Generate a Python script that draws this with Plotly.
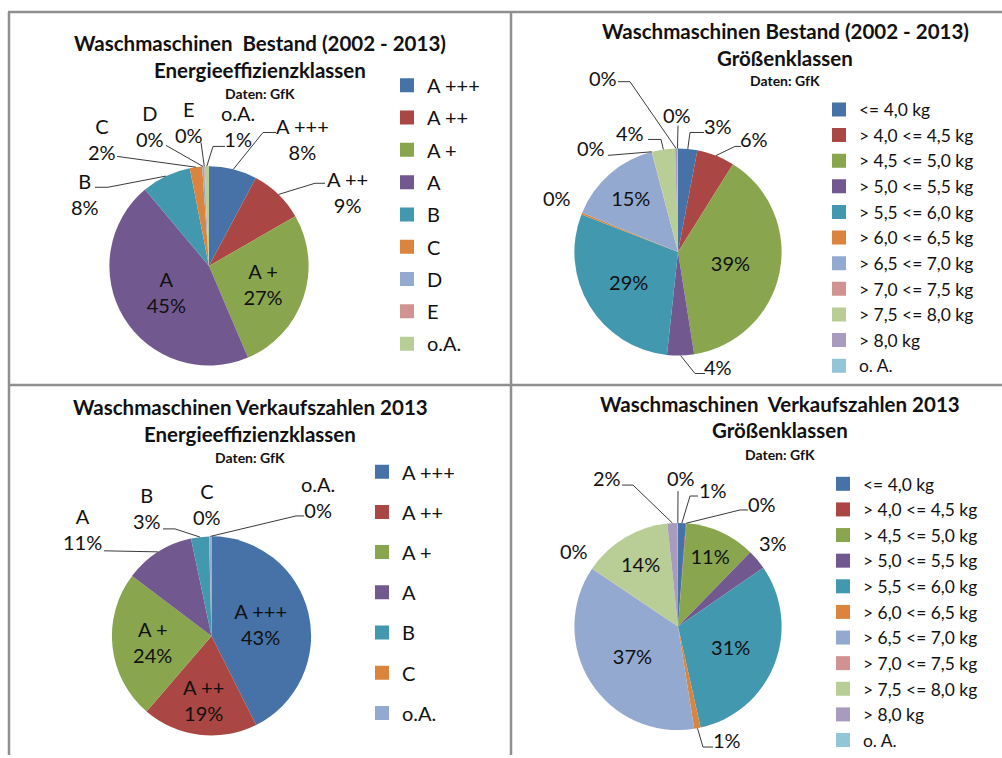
import math
import plotly.graph_objects as go

W, H = 1002, 758

# ---------------- data ----------------
eff_bestand_labels = ["A +++", "A ++", "A +", "A", "B", "C", "D", "E", "o.A."]
eff_bestand_values = [7.8, 8.9, 26.9, 45.3, 8.0, 2.0, 0.3, 0.1, 0.7]

size_labels = ["<= 4,0 kg", "> 4,0 <= 4,5 kg", "> 4,5 <= 5,0 kg", "> 5,0 <= 5,5 kg",
               "> 5,5 <= 6,0 kg", "> 6,0 <= 6,5 kg", "> 6,5 <= 7,0 kg", "> 7,0 <= 7,5 kg",
               "> 7,5 <= 8,0 kg", "> 8,0 kg", "o. A."]
size_bestand_values = [3.0, 5.9, 38.6, 4.2, 29.2, 0.3, 14.7, 0.05, 3.6, 0.3, 0.15]

eff_verkauf_labels = ["A +++", "A ++", "A +", "A", "B", "C", "o.A."]
eff_verkauf_values = [42.6, 18.7, 24.0, 11.4, 2.9, 0.05, 0.35]

size_verkauf_values = [1.2, 0.1, 11.0, 3.1, 31.1, 1.0, 36.9, 0.05, 13.9, 1.6, 0.05]

# ---------------- style ----------------
PALETTE = ["#4672A8", "#AA4643", "#89A54E", "#71588F", "#4198AF", "#DB843D",
           "#93A9CF", "#D19392", "#B9CD96", "#A99BBD", "#92C5D7"]
FONT = "Lato, 'Open Sans', sans-serif"
TXT = "#111111"
FRAME = "#8f8f8f"

CHARTS = [
    dict(labels=eff_bestand_labels, values=eff_bestand_values,
         title=("Waschmaschinen\u00a0 Bestand (2002 - 2013)", "Energieeffizienzklassen"),
         title_x=260, title_y=(43, 70, 94), center=(209, 267), r=100,
         inside={2, 3}, with_name=True,
         legend=dict(x=387, y=66, size=20, gap=3.3),
         outside={0: ((302, 140), [(263, 133), (276, 133)]),
                  1: ((347, 193), [(315, 184), (325, 184)]),
                  4: ((85, 195), [(108, 188), (95, 188)]),
                  5: ((102, 140), [(117, 157)]),
                  6: ((150, 126), [(166, 146)]),
                  7: ((189, 122), [(201, 143)]),
                  8: ((238, 126), [(213, 147), (225, 147)])}),
    dict(labels=size_labels, values=size_bestand_values,
         title=("Waschmaschinen Bestand (2002 - 2013)", "Größenklassen"),
         title_x=785, title_y=(31, 58, 81), center=(678, 253), r=104,
         inside={2, 4, 6}, with_name=False,
         legend=dict(x=819, y=92, size=17.4, gap=0),
         outside={0: ((718, 126), [(690, 133), (704, 133)]),
                  1: ((754, 140), [(735, 147), (741, 147)]),
                  3: ((718, 368), [(695, 375), (705, 375)]),
                  5: ((557, 199), []),
                  7: ((591, 149), [(608, 156)]),
                  8: ((630, 134), [(661, 140), (648, 140)]),
                  9: ((603, 78), [(630, 82), (618, 82)]),
                  10: ((677, 115), [(678, 126)])}),
    dict(labels=eff_verkauf_labels, values=eff_verkauf_values,
         title=("Waschmaschinen Verkaufszahlen 2013", "Energieeffizienzklassen"),
         title_x=250, title_y=(409, 436, 459), center=(211.5, 638.5), r=100,
         inside={0, 1, 2}, with_name=True,
         legend=dict(x=362, y=454, size=20, gap=11.2),
         outside={3: ((82, 531), [(104, 553)]),
                  4: ((147, 510), [(175, 531), (163, 531)]),
                  5: ((207, 506), []),
                  6: ((318, 499), [(296, 518), (304, 518)])}),
    dict(labels=size_labels, values=size_verkauf_values,
         title=("Waschmaschinen\u00a0 Verkaufszahlen 2013", "Größenklassen"),
         title_x=780, title_y=(406, 432, 456), center=(678, 629), r=104,
         inside={2, 4, 6, 8}, with_name=False,
         legend=dict(x=823, y=468, size=17.4, gap=0),
         outside={0: ((713, 492), [(690, 498), (698, 498)]),
                  1: ((762, 506), [(740, 512), (748, 512)]),
                  3: ((773, 545), []),
                  5: ((727, 743), [(703, 750), (713, 750)]),
                  7: ((574, 553), []),
                  9: ((607, 480), [(633, 487), (622, 487)]),
                  10: ((681, 480), [(678, 493)])}),
]


def px(x):
    return x / W


def py(y):
    return 1 - y / H


fig = go.Figure()
annotations = []
shapes = []
layout_legends = {}

for k, ch in enumerate(CHARTS):
    labels, values = ch["labels"], ch["values"]
    n = len(labels)
    colors = PALETTE[:n]
    cx, cy = ch["center"]
    r = ch["r"]
    total = sum(values)
    legend_id = "legend" if k == 0 else f"legend{k + 1}"

    tpl = "%{label}<br>%{percent:.0%}" if ch["with_name"] else "%{percent:.0%}"
    fig.add_trace(go.Pie(
        labels=labels, values=values, sort=False, direction="clockwise", rotation=0,
        marker=dict(colors=colors, line=dict(width=0)),
        textposition=["inside" if i in ch["inside"] else "none" for i in range(n)],
        insidetextorientation="horizontal",
        texttemplate=tpl,
        textfont=dict(family=FONT, size=20, color=TXT),
        domain=dict(x=[px(cx - r), px(cx + r)], y=[py(cy + r), py(cy - r)]),
        showlegend=False, hoverinfo="label+percent",
    ))

    # legend entries for every category
    for i, (lab, col) in enumerate(zip(labels, colors)):
        fig.add_trace(go.Scatter(
            x=[None], y=[None], mode="markers", name=lab,
            marker=dict(symbol="square", size=14, color=col, line=dict(width=0)),
            legend=legend_id, legendgroup=f"c{k}_{i}", showlegend=True,
            hoverinfo="skip"))
    lg = ch["legend"]
    layout_legends[legend_id] = dict(
        x=px(lg["x"]), y=py(lg["y"]), xanchor="left", yanchor="top",
        font=dict(family=FONT, size=lg["size"], color=TXT),
        tracegroupgap=lg["gap"], traceorder="grouped", itemsizing="trace",
        bgcolor="rgba(0,0,0,0)", borderwidth=0)

    # titles
    t1, t2 = ch["title"]
    ty = ch["title_y"]
    for text, yy, size in ((t1, ty[0], 20.5), (t2, ty[1], 20.5), ("Daten: GfK", ty[2], 14)):
        annotations.append(dict(text=f"<b>{text}</b>", x=px(ch["title_x"]), y=py(yy),
                                xref="paper", yref="paper", xanchor="center", yanchor="middle",
                                showarrow=False, font=dict(family=FONT, size=size, color=TXT)))

    # outside labels with leader lines
    cum = 0.0
    for i, v in enumerate(values):
        mid = (cum + v / 2) / total * 2 * math.pi
        cum += v
        if i not in ch["outside"]:
            continue
        (lx, ly), path_pts = ch["outside"][i]
        pct = int(v / total * 100 + 0.5)
        text = f"{labels[i]}<br>{pct}%" if ch["with_name"] else f"{pct}%"
        annotations.append(dict(text=text, x=px(lx), y=py(ly), xref="paper", yref="paper",
                                xanchor="center", yanchor="middle", showarrow=False,
                                font=dict(family=FONT, size=20, color=TXT)))
        if path_pts:
            sx = cx + r * math.sin(mid)
            sy = cy - r * math.cos(mid)
            pts = [(sx, sy)] + list(path_pts)
            d = "M " + " L ".join(f"{px(a):.5f},{py(b):.5f}" for a, b in pts)
            shapes.append(dict(type="path", path=d, xref="paper", yref="paper",
                               line=dict(color="#3a3a3a", width=1)))

# frame lines
frame = [((8, 12), (1002, 12)), ((9, 12), (9, 758)), ((511, 12), (511, 758)),
         ((9, 386.5), (1002, 386.5))]
for (x0, y0), (x1, y1) in frame:
    shapes.append(dict(type="line", x0=px(x0), y0=py(y0), x1=px(x1), y1=py(y1),
                       xref="paper", yref="paper", line=dict(color=FRAME, width=2.5)))

fig.update_layout(
    width=W, height=H, margin=dict(l=0, r=0, t=0, b=0),
    paper_bgcolor="white", plot_bgcolor="white",
    xaxis=dict(visible=False), yaxis=dict(visible=False),
    annotations=annotations, shapes=shapes,
    **layout_legends,
)

fig.write_html("out.html", config={"displayModeBar": False},
               post_script="document.body.style.margin='0px';document.body.style.overflow='hidden';")
